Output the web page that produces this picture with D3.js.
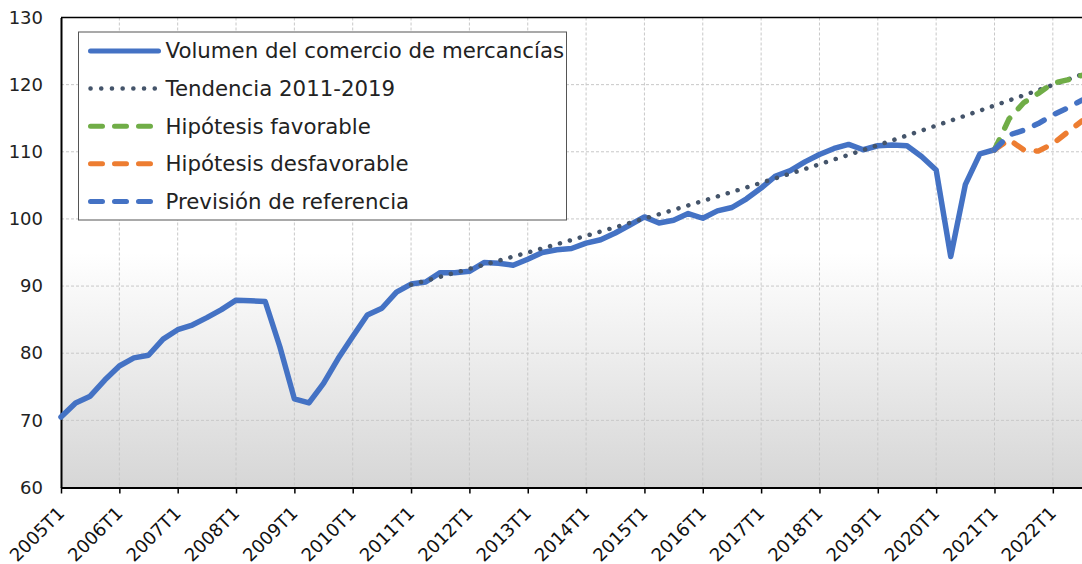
<!DOCTYPE html>
<html>
<head>
<meta charset="utf-8">
<script src="https://cdn.jsdelivr.net/npm/d3@7"></script>
<style>
  body { margin: 0; background: #fff; }
  svg { display: block; font-family: "DejaVu Sans", Verdana, sans-serif; }
</style>
</head>
<body>
<div id="chart"></div>
<script>
// tick labels on the x axis (one per year)
var yearTicks = ["2005T1","2006T1","2007T1","2008T1","2009T1","2010T1","2011T1","2012T1","2013T1",
                 "2014T1","2015T1","2016T1","2017T1","2018T1","2019T1","2020T1","2021T1","2022T1"];
var yTicks = [60, 70, 80, 90, 100, 110, 120, 130];

// Volumen del comercio de mercancías, 2005T1 - 2021T1
var volumen = [70.5, 72.6, 73.6, 76.0, 78.1, 79.3, 79.7, 82.1, 83.5, 84.2,
               85.3, 86.5, 87.9, 87.8, 87.7, 81.0, 73.2, 72.6, 75.5, 79.2,
               82.5, 85.7, 86.7, 89.1, 90.3, 90.6, 92.0, 92.0, 92.2, 93.5,
               93.4, 93.1, 94.0, 95.0, 95.4, 95.6, 96.4, 96.9, 97.9, 99.1,
               100.3, 99.4, 99.8, 100.8, 100.1, 101.2, 101.7, 103.0, 104.6, 106.4,
               107.2, 108.5, 109.6, 110.5, 111.1, 110.3, 110.9, 111.0, 110.9, 109.3,
               107.3, 94.4, 105.1, 109.7, 110.3];

// Tendencia 2011-2019, from 2011T1 to 2022T3
var tendencia = [90.20, 90.79, 91.38, 91.97, 92.57, 93.17, 93.78, 94.39, 95.00, 95.62,
                 96.24, 96.86, 97.49, 98.13, 98.76, 99.41, 100.05, 100.70, 101.36, 102.02,
                 102.68, 103.35, 104.02, 104.69, 105.38, 106.06, 106.75, 107.44, 108.14, 108.85,
                 109.55, 110.26, 110.98, 111.70, 112.43, 113.16, 113.90, 114.64, 115.38, 116.13,
                 116.89, 117.65, 118.41, 119.18, 119.95, 120.73, 121.52];

// scenarios, 2021T1 to 2022T3
var favorable     = [110.3, 114.9, 117.3, 118.7, 120.2, 120.7, 121.4];
var desfavorable  = [110.3, 111.8, 110.3, 110.1, 111.2, 112.9, 114.6];
var referencia    = [110.3, 112.5, 113.2, 114.2, 115.5, 116.5, 117.7];

// quarter labels 2005T1 .. 2022T3
var quarters = [];
for (var yr = 2005; yr <= 2022; yr++) {
    for (var q = 1; q <= 4; q++) quarters.push(yr + "T" + q);
}
quarters = quarters.slice(0, 71);

var W = 1082, H = 564;
var margin = { top: 17.5, right: 0, bottom: 76.5, left: 61 };
var width = W - margin.left - margin.right,
    height = H - margin.top - margin.bottom;
var FONT = '"DejaVu Sans", Verdana, sans-serif';

var svg = d3.select("#chart").append("svg")
    .attr("width", W).attr("height", H);

// plot background gradient
var grad = svg.append("defs").append("linearGradient")
    .attr("id", "bg").attr("x1", 0).attr("y1", 0).attr("x2", 0).attr("y2", 1);
grad.append("stop").attr("offset", "0%").attr("stop-color", "#ffffff");
grad.append("stop").attr("offset", "50%").attr("stop-color", "#ffffff");
grad.append("stop").attr("offset", "100%").attr("stop-color", "#d6d6d6");

var g = svg.append("g")
    .attr("transform", "translate(" + margin.left + "," + margin.top + ")");

var x = d3.scalePoint().domain(quarters).range([0, width]);
var y = d3.scaleLinear().domain([60, 130]).range([height, 0]);

g.append("rect")
    .attr("width", width).attr("height", height)
    .attr("fill", "url(#bg)");

// gridlines
g.selectAll(".hgrid").data(yTicks.slice(1, -1)).enter()
  .append("line")
    .attr("x1", 0).attr("x2", width)
    .attr("y1", function(d) { return y(d); })
    .attr("y2", function(d) { return y(d); })
    .attr("stroke", "#c8c8c8").attr("stroke-dasharray", "3,2");

g.selectAll(".vgrid").data(yearTicks.slice(1)).enter()
  .append("line")
    .attr("x1", function(d) { return x(d); })
    .attr("x2", function(d) { return x(d); })
    .attr("y1", 0).attr("y2", height)
    .attr("stroke", "#c8c8c8").attr("stroke-dasharray", "3,2");

// top border
g.append("line")
    .attr("x1", 0).attr("x2", width).attr("y1", 0).attr("y2", 0)
    .attr("stroke", "#000").attr("stroke-width", 1.5);

// axes
var xAxis = d3.axisBottom(x).tickValues(yearTicks).tickSize(6).tickSizeOuter(0);
var gx = g.append("g")
    .attr("transform", "translate(0," + height + ")")
    .call(xAxis)
    .attr("font-family", FONT);
gx.select(".domain").attr("stroke", "#000").attr("stroke-width", 2);
gx.selectAll(".tick line").attr("stroke", "#000").attr("stroke-width", 1.5);
gx.selectAll(".tick text")
    .attr("font-size", "18px")
    .attr("fill", "#111")
    .attr("text-anchor", "end")
    .attr("dy", null)
    .attr("y", 0)
    .attr("transform", "translate(4,27) rotate(-45)");

var yAxis = d3.axisLeft(y).tickValues(yTicks).tickSize(0).tickPadding(18);
var gy = g.append("g").call(yAxis).attr("font-family", FONT);
gy.select(".domain").attr("stroke", "#000").attr("stroke-width", 2);
gy.selectAll(".tick text").attr("font-size", "18px").attr("fill", "#222");

// series
var line = d3.line()
    .x(function(d) { return x(d.q); })
    .y(function(d) { return y(d.v); });

function toPoints(values, start) {
    return values.map(function(v, i) { return { q: quarters[start + i], v: v }; });
}

var series = [
    { name: "Volumen del comercio de mercancías", data: toPoints(volumen, 0),
      color: "#4472C4", dash: null, width: 5.5 },
    { name: "Tendencia 2011-2019", data: toPoints(tendencia, 24),
      color: "#44546A", dash: "0.1,10.2", width: 4.5 },
    { name: "Hipótesis favorable", data: toPoints(favorable, 64),
      color: "#70AD47", dash: "11,13", width: 5.5 },
    { name: "Hipótesis desfavorable", data: toPoints(desfavorable, 64),
      color: "#ED7D31", dash: "11,13", width: 5.5 },
    { name: "Previsión de referencia", data: toPoints(referencia, 64),
      color: "#4472C4", dash: "11,13", width: 5.5 }
];

g.selectAll(".series").data(series).enter()
  .append("path")
    .attr("class", "series")
    .attr("d", function(d) { return line(d.data); })
    .attr("fill", "none")
    .attr("stroke", function(d) { return d.color; })
    .attr("stroke-width", function(d) { return d.width; })
    .attr("stroke-dasharray", function(d) { return d.dash; })
    .attr("stroke-linecap", "round")
    .attr("stroke-linejoin", "round");

// legend
var legend = svg.append("g").attr("transform", "translate(78.5,32)");
legend.append("rect")
    .attr("width", 488).attr("height", 188)
    .attr("fill", "#fff").attr("stroke", "#555").attr("stroke-width", 1);

var items = legend.selectAll(".item").data(series).enter()
  .append("g")
    .attr("transform", function(d, i) { return "translate(0," + (19 + i * 37.6) + ")"; });

items.append("line")
    .attr("x1", 12).attr("x2", 80)
    .attr("stroke", function(d) { return d.color; })
    .attr("stroke-width", function(d, i) { return i === 1 ? 4.5 : 5; })
    .attr("stroke-dasharray", function(d, i) { return i === 1 ? "0.1,10.6" : (d.dash ? "12,12" : null); })
    .attr("stroke-linecap", "round");

items.append("text")
    .attr("x", 87).attr("dy", "0.35em")
    .attr("font-size", "21.3px").attr("fill", "#222")
    .text(function(d) { return d.name; });
</script>
</body>
</html>
